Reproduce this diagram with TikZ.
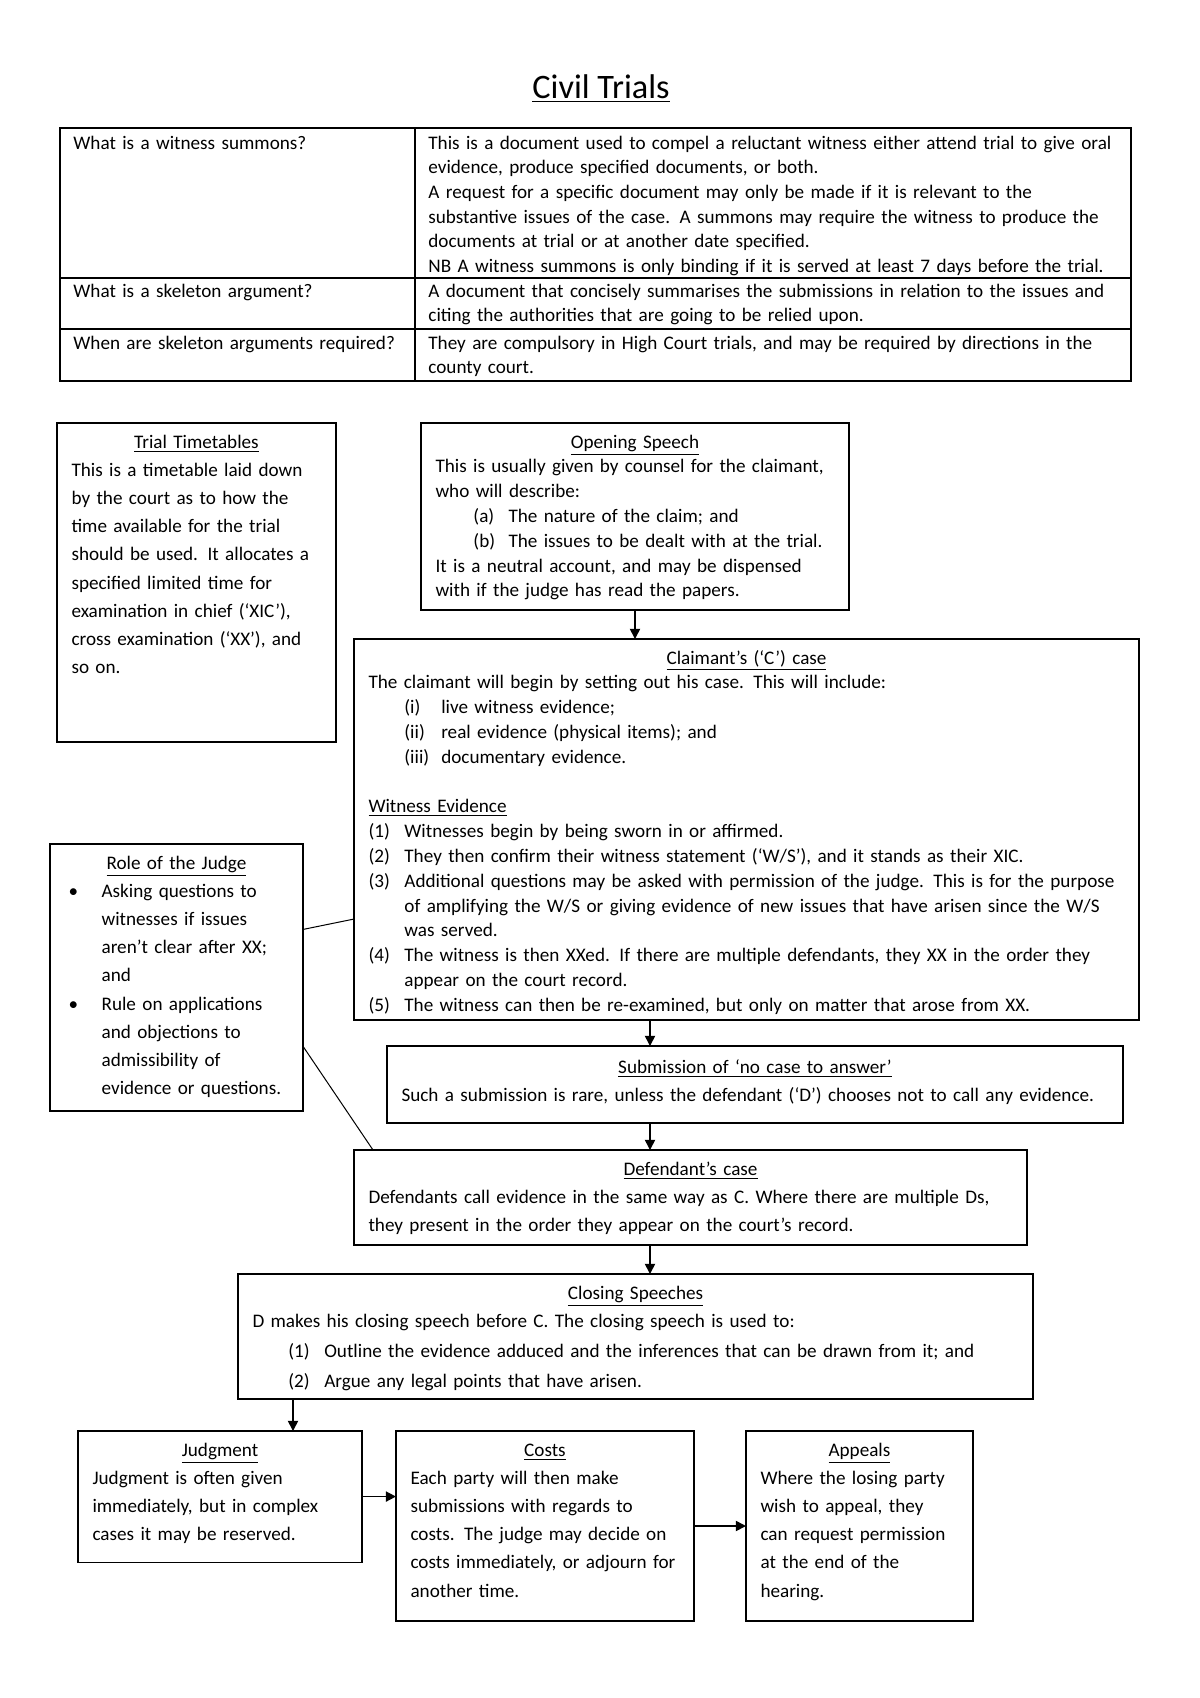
\documentclass[tikz,border=0pt]{standalone}
\usepackage{fontspec}
\setmainfont{Carlito}
\usepackage{tikz}
\usetikzlibrary{positioning}
\usetikzlibrary{arrows.meta,calc}
\tikzstyle{nowrap}=[execute at begin node={\rightskip=0pt plus 1fil minus 80pt\relax\hyphenpenalty=10000\relax}]
\tikzstyle{card}=[draw,rectangle,anchor=north west,line width=0.6pt,inner xsep=7.2pt,inner ysep=0pt,outer sep=0pt,align=left,nowrap,text height=12.4pt,font=\fontsize{9.5}{14}\selectfont]
\tikzstyle{tight}=[font=\fontsize{9.5}{12.3}\selectfont]
\tikzstyle{cell}=[anchor=base west,align=left,nowrap,inner sep=0pt,font=\fontsize{9.5}{12.25}\selectfont]
\tikzstyle{flow} = [draw,line width=0.8pt,-{Triangle[length=5pt,width=5pt]}]
\tikzstyle{link} = [draw,line width=0.5pt]
\tikzset{tablerule/.style={draw,line width=0.6pt}}
\newcommand{\boxhead}[1]{\makebox[\linewidth]{\underline{#1}}}
\newcommand{\lbl}[2]{\makebox[#1][l]{#2}}

\begin{document}
\begin{tikzpicture}[x=0.4958pt,y=-0.4958pt]
\useasboundingbox (0,0) rectangle (1200,1698);

\node (title) at (601,89) {\fontsize{17}{20}\selectfont\underline{Civil Trials}};

%table
\draw[tablerule,line width=1.3pt] (60,128) rectangle (1131,381);
\draw[tablerule] (415,128) -- (415,381);
\draw[tablerule,line width=1.1pt] (60,278) -- (1131,278);
\draw[tablerule,line width=1.1pt] (60,329) -- (1131,329);

\node[cell,text width=165pt] (q1) at (73,149) {What is a witness summons?};
\node[cell,text width=345pt] (a1) at (428,149) {This is a document used to compel a reluctant witness either attend trial to give oral\\
  evidence, produce specified documents, or both.\\
  A request for a specific document may only be made if it is relevant to the\\
  substantive issues of the case. A summons may require the witness to produce the\\
  documents at trial or at another date specified.\\
  NB A witness summons is only binding if it is served at least 7 days before the trial.};
\node[cell,text width=165pt] (q2) at (73,297) {What is a skeleton argument?};
\node[cell,text width=345pt] (a2) at (428,297) {A document that concisely summarises the submissions in relation to the issues and\\
  citing the authorities that are going to be relied upon.};
\node[cell,text width=165pt] (q3) at (73,349) {When are skeleton arguments required?};
\node[cell,text width=345pt] (a3) at (428,349) {They are compulsory in High Court trials, and may be required by directions in the\\
  county court.};

%boxes
\node[card,text width=123.9pt,text depth=145.8pt] (tt) at (57,423) {\boxhead{Trial Timetables}\\
  This is a timetable laid down\\ by the court as to how the\\ time available for the trial\\
  should be used. It allocates a\\ specified limited time for\\ examination in chief (‘XIC’),\\
  cross examination (‘XX’), and\\ so on.};

\node[card,tight,text width=197.8pt,text depth=80.3pt] (op) at (421,423) {\boxhead{Opening Speech}\\
  This is usually given by counsel for the claimant,\\ who will describe:\\
  \hspace*{18.8pt}\lbl{17.4pt}{(a)}The nature of the claim; and\\
  \hspace*{18.8pt}\lbl{17.4pt}{(b)}The issues to be dealt with at the trial.\\
  It is a neutral account, and may be dispensed\\ with if the judge has read the papers.};

\node[card,tight,text width=374.8pt,text depth=176.5pt] (cl) at (354,639) {\boxhead{Claimant’s (‘C’) case}\\
  The claimant will begin by setting out his case. This will include:\\
  \hspace*{17.8pt}\lbl{18.3pt}{(i)}live witness evidence;\\
  \hspace*{17.8pt}\lbl{18.3pt}{(ii)}real evidence (physical items); and\\
  \hspace*{17.8pt}\lbl{18.3pt}{(iii)}documentary evidence.\\
  ~\\
  \underline{Witness Evidence}\\
  \lbl{17.8pt}{(1)}Witnesses begin by being sworn in or affirmed.\\
  \lbl{17.8pt}{(2)}They then confirm their witness statement (‘W/S’), and it stands as their XIC.\\
  \lbl{17.8pt}{(3)}Additional questions may be asked with permission of the judge. This is for the purpose\\
  \hspace*{17.8pt}of amplifying the W/S or giving evidence of new issues that have arisen since the W/S\\
  \hspace*{17.8pt}was served.\\
  \lbl{17.8pt}{(4)}The witness is then XXed. If there are multiple defendants, they XX in the order they\\
  \hspace*{17.8pt}appear on the court record.\\
  \lbl{17.8pt}{(5)}The witness can then be re-examined, but only on matter that arose from XX.};

\node[card,text height=13.4pt,text width=350.5pt,text depth=24.8pt] (sub) at (387,1046) {\boxhead{Submission of ‘no case to answer’}\\
  Such a submission is rare, unless the defendant (‘D’) chooses not to call any evidence.};

\node[card,text width=319.3pt,text depth=34.7pt] (def) at (354,1150) {\boxhead{Defendant’s case}\\
  Defendants call evidence in the same way as C. Where there are multiple Ds,\\
  they present in the order they appear on the court’s record.};

\node[card,text width=379.8pt,text depth=49.6pt] (clo) at (238,1274) {\boxhead{Closing Speeches}\\
  D makes his closing speech before C. The closing speech is used to:\\[1pt]
  \hspace*{17.8pt}\lbl{17.8pt}{(1)}Outline the evidence adduced and the inferences that can be drawn from it; and\\[1pt]
  \hspace*{17.8pt}\lbl{17.8pt}{(2)}Argue any legal points that have arisen.};

\node[card,text width=126.4pt,text depth=52.6pt] (jud) at (78,1431) {\boxhead{Judgment}\\
  Judgment is often given\\ immediately, but in complex\\ cases it may be reserved.};

\node[card,text width=133.3pt,text depth=81.8pt] (cos) at (396,1431) {\boxhead{Costs}\\
  Each party will then make\\ submissions with regards to\\ costs. The judge may decide on\\
  costs immediately, or adjourn for\\ another time.};

\node[card,text width=98.1pt,text depth=81.8pt] (app) at (746,1431) {\boxhead{Appeals}\\
  Where the losing party\\ wish to appeal, they\\ can request permission\\ at the end of the\\ hearing.};

\node[card,text width=111pt,text depth=120pt] (role) at (50,844) {\boxhead{Role of the Judge}\\
  \hspace*{2pt}\lbl{16.4pt}{\textbullet}Asking questions to\\
  \hspace*{18.4pt}witnesses if issues\\
  \hspace*{18.4pt}aren’t clear after XX;\\
  \hspace*{18.4pt}and\\
  \hspace*{2pt}\lbl{16.4pt}{\textbullet}Rule on applications\\
  \hspace*{18.4pt}and objections to\\
  \hspace*{18.4pt}admissibility of\\
  \hspace*{18.4pt}evidence or questions.};

%connectors
\coordinate (spine) at (650,0);
\coordinate (jspine) at (293,0);
\path[flow] (op.south) -- (op.south |- cl.north);
\path[flow] (cl.south -| spine) -- (sub.north -| spine);
\path[flow] (sub.south -| spine) -- (def.north -| spine);
\path[flow] (def.south -| spine) -- (clo.north -| spine);
\path[flow] (clo.south -| jspine) -- (jud.north -| jspine);
\path[flow] (jud.east) -- (jud.east -| cos.west);
\path[flow] (cos.east) -- (cos.east -| app.west);

\path[link] ($(role.north east)!0.32!(role.south east)$) -- ($(cl.north west)!0.735!(cl.south west)$);
\path[link] ($(role.north east)!0.757!(role.south east)$) -- ($(def.north west)+(19,0)$);

\end{tikzpicture}
\end{document}
